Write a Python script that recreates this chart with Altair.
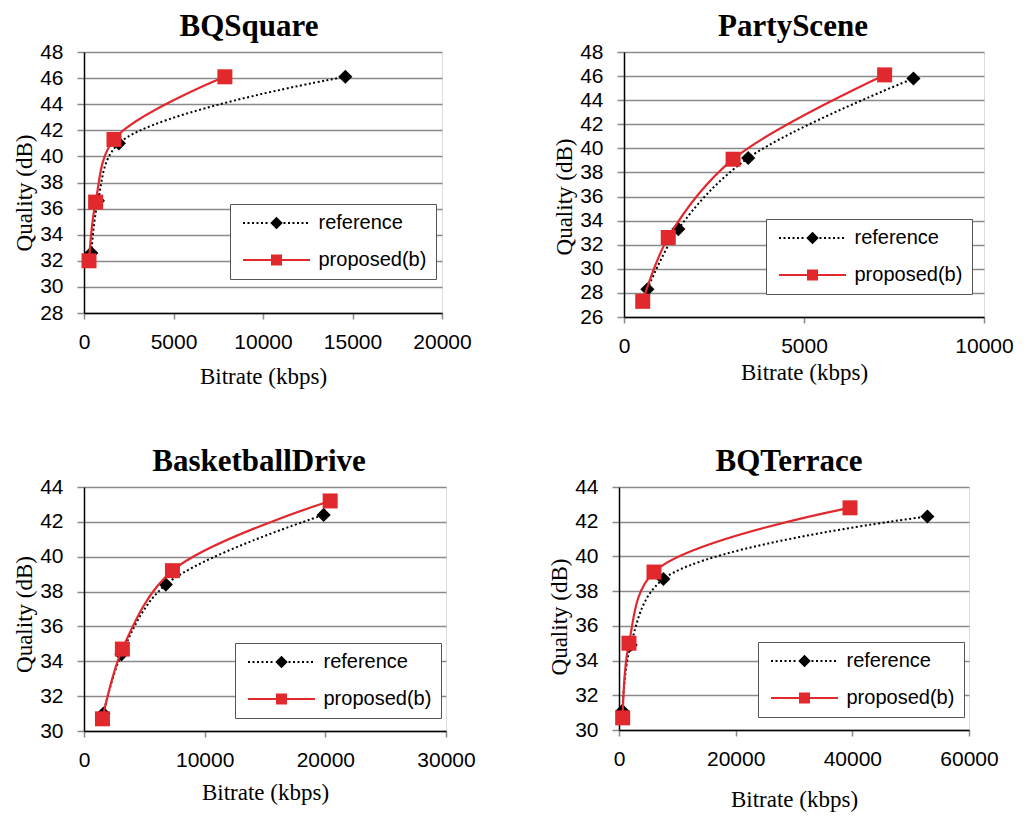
import altair as alt
import pandas as pd

RED = "#E1282D"
GRID = "#8a8a8a"

series_names = ["reference", "proposed(b)"]
panel_titles = ["BQSquare", "PartyScene", "BasketballDrive", "BQTerrace"]

bqsquare_ref_rate = [410, 780, 1950, 14600]
bqsquare_ref_q = [32.6, 36.6, 41.0, 46.1]
bqsquare_prop_rate = [280, 650, 1675, 7870]
bqsquare_prop_q = [32.0, 36.5, 41.3, 46.1]

partyscene_ref_rate = [650, 1510, 3450, 8040]
partyscene_ref_q = [28.3, 33.3, 39.2, 45.8]
partyscene_prop_rate = [520, 1230, 3030, 7240]
partyscene_prop_q = [27.3, 32.6, 39.1, 46.1]

basketball_ref_rate = [1610, 3100, 6780, 19860]
basketball_ref_q = [31.0, 34.4, 38.4, 42.4]
basketball_prop_rate = [1530, 3180, 7330, 20400]
basketball_prop_q = [30.7, 34.7, 39.2, 43.2]

bqterrace_ref_rate = [580, 2000, 7610, 52870]
bqterrace_ref_q = [31.1, 34.9, 38.7, 42.3]
bqterrace_prop_rate = [630, 1710, 6000, 39600]
bqterrace_prop_q = [30.7, 35.0, 39.1, 42.8]

bqsquare_xticks = [0, 5000, 10000, 15000, 20000]
partyscene_xticks = [0, 5000, 10000]
basketball_xticks = [0, 10000, 20000, 30000]
bqterrace_xticks = [0, 20000, 40000, 60000]
bqsquare_yticks = list(range(28, 49, 2))
partyscene_yticks = list(range(26, 49, 2))
basketball_yticks = list(range(30, 45, 2))
bqterrace_yticks = list(range(30, 45, 2))


# legend symbol paths (line + marker), units scaled by sqrt(size)/2 = 5px
def _rect(x0, x1, y0, y1):
    return f"M{x0:.2f},{y0:.2f}H{x1:.2f}V{y1:.2f}H{x0:.2f}Z"


def dotted_path():
    parts = []
    x = -6.7
    while x < 6.7:
        x1 = min(x + 0.4, 6.7)
        if x1 < -1.0 or x > 1.0:
            parts.append(_rect(x, x1, -0.2, 0.2))
        x += 0.9
    parts.append("M-1.25,0L0,-1.25L1.25,0L0,1.25Z")
    return "".join(parts)


def solid_path():
    return _rect(-6.7, 6.7, -0.2, 0.2) + _rect(-1.1, 1.1, -1.1, 1.1)


REF_PATH = dotted_path()
PROP_PATH = solid_path()


def panel(title, ref_rate, ref_q, prop_rate, prop_q, xdom, xticks, ydom, yticks,
          w, h, lx, ly, title_dx, xtitle_pad, ytitle_dy):
    df = pd.DataFrame({
        "rate": ref_rate + prop_rate,
        "q": ref_q + prop_q,
        "series": [series_names[0]] * len(ref_rate) + [series_names[1]] * len(prop_rate),
    })
    base = alt.Chart(df)
    x = alt.X("rate:Q", title="Bitrate (kbps)",
              scale=alt.Scale(domain=xdom, nice=False, zero=True),
              axis=alt.Axis(values=xticks, format="d", grid=False, tickSize=6,
                            tickColor=GRID, tickWidth=1.5, labelFlush=False,
                            domainColor="black", domainWidth=1.5,
                            labelFont="Liberation Sans", labelFontSize=21,
                            labelColor="black", labelPadding=12,
                            titleFont="Liberation Serif", titleFontSize=23,
                            titleFontWeight="normal", titleColor="black",
                            titlePadding=xtitle_pad))
    y = alt.Y("q:Q", title="Quality (dB)",
              scale=alt.Scale(domain=ydom, nice=False, zero=False),
              axis=alt.Axis(values=yticks, format="d", grid=True, gridColor=GRID,
                            gridWidth=1.5, tickSize=7, tickColor=GRID, tickWidth=1.5,
                            labelFlush=False,
                            domainColor="black", domainWidth=1.5,
                            labelFont="Liberation Sans", labelFontSize=21,
                            labelColor="black", labelPadding=14,
                            titleFont="Liberation Serif", titleFontSize=23,
                            titleFontWeight="normal", titleColor="black",
                            titlePadding=3, titleY=h / 2 + ytitle_dy))
    ref = base.transform_filter(alt.datum.series == series_names[0])
    prop = base.transform_filter(alt.datum.series == series_names[1])
    ref_line = ref.mark_line(interpolate="catmull-rom", color="black",
                             strokeWidth=2, strokeDash=[2, 2.5]).encode(x=x, y=y)
    ref_pts = ref.mark_point(shape="diamond", filled=True, size=200, color="black",
                             opacity=1).encode(x=x, y=y)
    prop_line = prop.mark_line(interpolate="catmull-rom", color=RED,
                               strokeWidth=2.2).encode(x=x, y=y)
    prop_pts = prop.mark_point(shape="square", filled=True, size=225, color=RED,
                               opacity=1).encode(x=x, y=y)
    leg = alt.Legend(title=None, orient="none", legendX=lx, legendY=ly,
                     fillColor="white", strokeColor="#555555", padding=9,
                     rowPadding=17, symbolOffset=27.5, labelOffset=32,
                     labelFont="Liberation Sans", labelFontSize=20,
                     labelColor="black", symbolSize=100)
    legend_layer = base.transform_filter("false").mark_point(
        filled=True, size=100, opacity=1).encode(
        x=x, y=y,
        color=alt.Color("series:N", scale=alt.Scale(domain=series_names,
                                                    range=["black", RED]), legend=leg),
        shape=alt.Shape("series:N", scale=alt.Scale(domain=series_names,
                                                    range=[REF_PATH, PROP_PATH]), legend=leg),
    )
    return alt.layer(ref_line, ref_pts, prop_line, prop_pts, legend_layer).properties(
        width=w, height=h,
        title=alt.Title(title, font="Liberation Serif", fontSize=31, fontWeight="bold",
                        color="black", offset=-2, dx=title_dx, frame="group",
                        anchor="middle"),
    )


p1 = panel(panel_titles[0], bqsquare_ref_rate, bqsquare_ref_q, bqsquare_prop_rate,
           bqsquare_prop_q, [0, 20000], bqsquare_xticks, [28, 48], bqsquare_yticks,
           358, 261, 146, 152, -14, 13, 10)
p2 = panel(panel_titles[1], partyscene_ref_rate, partyscene_ref_q, partyscene_prop_rate,
           partyscene_prop_q, [0, 10000], partyscene_xticks, [26, 48], partyscene_yticks,
           360, 265, 142, 167, -11, 5, 12)
p3 = panel(panel_titles[2], basketball_ref_rate, basketball_ref_q, basketball_prop_rate,
           basketball_prop_q, [0, 30000], basketball_xticks, [30, 44], basketball_yticks,
           362, 244, 151, 156, -6, 11, 5)
p4 = panel(panel_titles[3], bqterrace_ref_rate, bqterrace_ref_q, bqterrace_prop_rate,
           bqterrace_prop_q, [0, 60000], bqterrace_xticks, [30, 44], bqterrace_yticks,
           350, 243, 139, 155, -5, 19, 8)

row1 = alt.hconcat(p1, p2, spacing=182, bounds="flush").resolve_scale(
    color="independent", shape="independent")
row2 = alt.hconcat(p3, p4, spacing=173, bounds="flush").resolve_scale(
    color="independent", shape="independent")
chart = alt.vconcat(row1, row2, spacing=435, bounds="flush").resolve_scale(
    color="independent", shape="independent").properties(
    padding={"top": 2, "left": 5, "right": 5, "bottom": 5}).configure_view(
    stroke=GRID, strokeWidth=2).configure(background="white")

chart.save("out.html", embed_options={"renderer": "svg", "actions": False})
